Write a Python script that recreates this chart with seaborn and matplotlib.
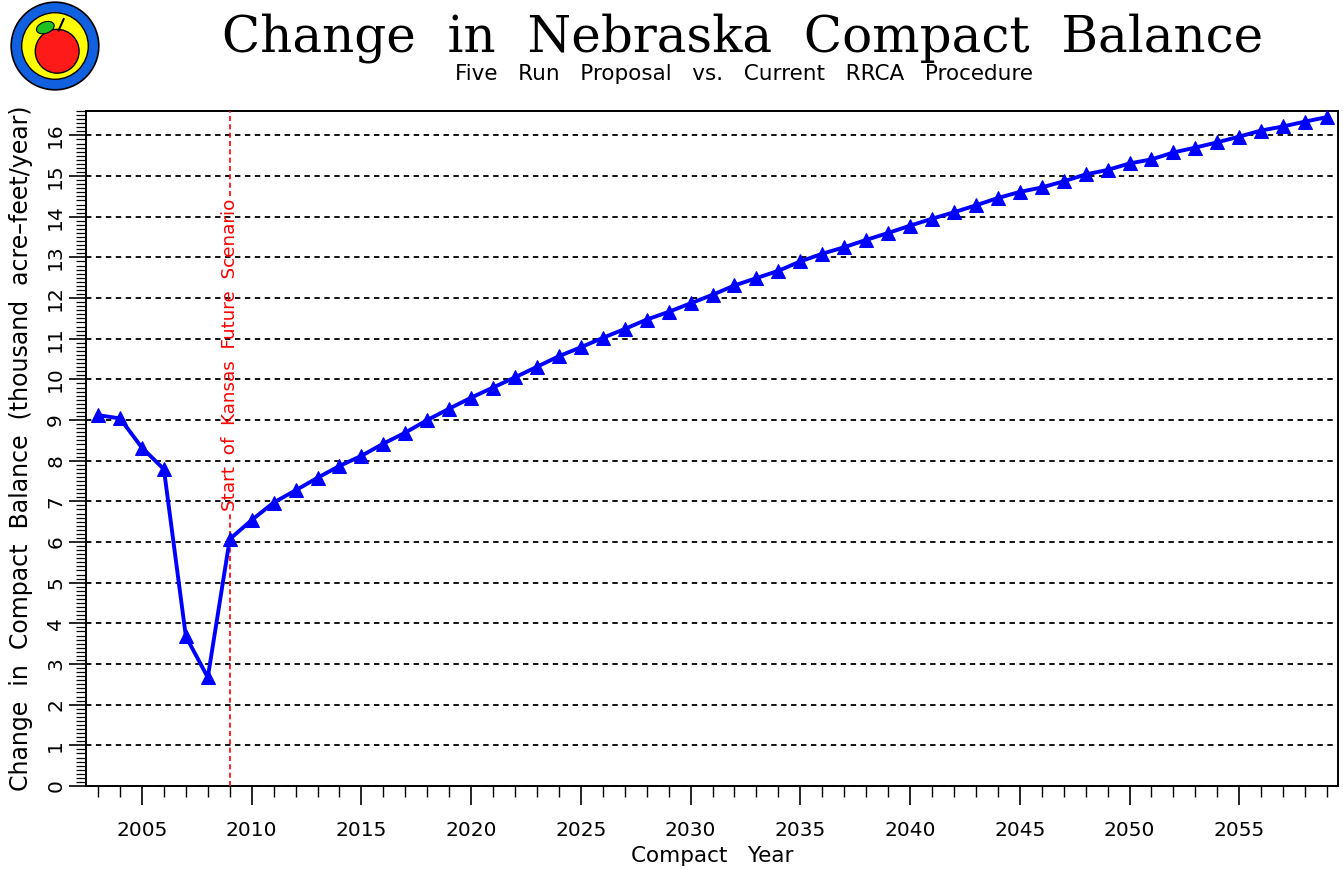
import numpy as np
import pandas as pd
import seaborn as sns
import matplotlib
matplotlib.use("Agg")
import matplotlib.pyplot as plt
from matplotlib.ticker import MultipleLocator
from matplotlib.patches import Circle, Ellipse

# ---------------- data ----------------
years = list(range(2003, 2060))
balance_change = [9.12, 9.04, 8.32, 7.79, 3.68, 2.67, 6.07,
                  6.54, 6.97, 7.27, 7.58, 7.87, 8.12, 8.42, 8.69, 9.00,
                  9.28, 9.55, 9.80, 10.05, 10.31, 10.57,
                  10.79, 11.02, 11.24, 11.47, 11.66, 11.87, 12.08, 12.31,
                  12.49, 12.67, 12.90, 13.09, 13.25, 13.43, 13.60,
                  13.78, 13.95, 14.11, 14.28, 14.46, 14.61, 14.72, 14.87,
                  15.04, 15.15, 15.31, 15.41, 15.58, 15.70, 15.83, 15.97,
                  16.12, 16.22, 16.34, 16.45]
scenario_start_year = 2009
scenario_label = "Start  of  Kansas  Future  Scenario"
title = "Change  in  Nebraska  Compact  Balance"
subtitle = "Five   Run   Proposal   vs.   Current   RRCA   Procedure"
x_label = "Compact   Year"
y_label = "Change  in  Compact  Balance  (thousand  acre\u2013feet/year)"

df = pd.DataFrame({"year": years, "value": balance_change})

# ---------------- style ----------------
sns.set_style("ticks")
plt.rcParams["font.family"] = ["DejaVu Sans"]
plt.rcParams["text.color"] = "black"
plt.rcParams["axes.labelcolor"] = "black"
plt.rcParams["xtick.color"] = "black"
plt.rcParams["ytick.color"] = "black"

W, H = 1343, 869
fig = plt.figure(figsize=(W / 100, H / 100), dpi=100)
ax = fig.add_axes([86 / W, 1 - 786 / H, (1338 - 86) / W, (786 - 111) / H])

sns.lineplot(data=df, x="year", y="value", ax=ax, color="#0000ff",
             linewidth=2.8, marker="^", markersize=10.5,
             markeredgecolor="#0000ff", markerfacecolor="#0000ff", zorder=5)

ax.set_xlim(2002.45, 2059.5)
ax.set_ylim(0, 16.6)

ax.xaxis.set_major_locator(MultipleLocator(5))
ax.xaxis.set_minor_locator(MultipleLocator(1))
ax.yaxis.set_major_locator(MultipleLocator(1))
ax.yaxis.set_minor_locator(MultipleLocator(0.1))

ax.yaxis.grid(True, which="major", linestyle=(0, (3, 2.5)), color="black",
              linewidth=1.3)
ax.xaxis.grid(False)

ax.tick_params(axis="x", which="major", length=14, width=1.2, direction="out",
               labelsize=14.5, pad=11, colors="black")
ax.tick_params(axis="x", which="minor", length=8, width=1.0, direction="out")
ax.tick_params(axis="y", which="major", length=12, width=1.2, direction="out",
               labelsize=14.5, pad=3, colors="black")
ax.tick_params(axis="y", which="minor", length=7, width=0.9, direction="out")
for lab in ax.get_yticklabels():
    lab.set_rotation(90)
    lab.set_va("center")

for sp in ax.spines.values():
    sp.set_visible(True)
    sp.set_color("black")
    sp.set_linewidth(1.4)

ax.set_xlabel(x_label, fontsize=15.5, color="black")
ax.set_ylabel(y_label, fontsize=17, color="black")
ax.xaxis.set_label_coords(0.5, (786 - 846) / (786 - 111))
ax.yaxis.set_label_coords((33 - 86) / (1338 - 86), 0.5)

# scenario start marker
y_lo, y_hi = ax.get_ylim()
ax.axvline(scenario_start_year, ymin=0, ymax=6.7 / y_hi, color="red",
           linestyle=(0, (3, 2)), linewidth=1.2, zorder=3)
ax.axvline(scenario_start_year, ymin=14.5 / y_hi, ymax=1, color="red",
           linestyle=(0, (3, 2)), linewidth=1.2, zorder=3)
ax.text(scenario_start_year, 10.6, scenario_label, rotation=90, color="red",
        ha="center", va="center", fontsize=13.2, zorder=4)

# titles
fig.text(743 / W, 1 - 38 / H, title, ha="center", va="center",
         fontsize=36, family="DejaVu Serif", color="black")
fig.text(744 / W, 1 - 74 / H, subtitle, ha="center", va="center",
         fontsize=15.5, color="black")

# logo
lax = fig.add_axes([8 / W, 1 - 92 / H, 94 / W, 92 / H])
lax.set_xlim(-1.05, 1.05)
lax.set_ylim(-1.05, 1.05)
lax.set_aspect("equal")
lax.axis("off")
lax.add_patch(Circle((0, 0), 1.0, facecolor="#1060e0", edgecolor="black", lw=1.2))
lax.add_patch(Circle((0, 0), 0.76, facecolor="#ffff00", edgecolor="black", lw=1.0))
lax.add_patch(Ellipse((0.05, -0.12), 1.0, 1.0, facecolor="#ff1a1a", edgecolor="black", lw=1.0))
lax.add_patch(Ellipse((-0.22, 0.42), 0.42, 0.26, angle=20, facecolor="#20c020",
                      edgecolor="black", lw=0.8))
lax.plot([0.08, 0.2], [0.35, 0.62], color="black", lw=1.5)

fig.savefig("out.png", dpi=100, facecolor="white")
